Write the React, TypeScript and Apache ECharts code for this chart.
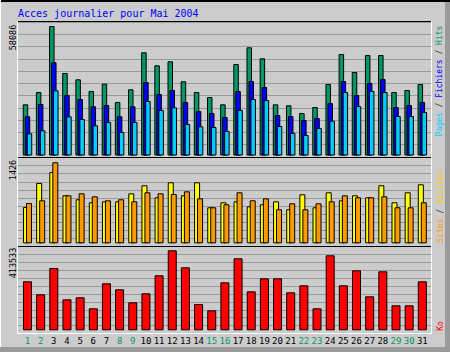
import React, { useEffect, useRef } from 'react';
import * as echarts from 'echarts';

const days = ['1','2','3','4','5','6','7','8','9','10','11','12','13','14','15','16','17','18','19','20','21','22','23','24','25','26','27','28','29','30','31'];
const weekendDays = [1, 2, 8, 9, 15, 16, 22, 23, 29, 30];

const hits = [22965, 28482, 58086, 37005, 34179, 28931, 32205, 23997, 29694, 46289, 40458, 42252, 33282, 28482, 26240, 22965, 41041, 48532, 43598, 22965, 22517, 19063, 21754, 32071, 45527, 37453, 45078, 45078, 28482, 29379, 32071];
const files = [17583, 23100, 41804, 27137, 25342, 22068, 22651, 17583, 22068, 32968, 27585, 29379, 23997, 19960, 19063, 17269, 28931, 33416, 30725, 18166, 17717, 15923, 16820, 23548, 33416, 27137, 32519, 34313, 21754, 22651, 23997];
const pages = [9958, 11303, 29245, 17583, 16372, 13546, 15026, 10541, 15026, 24445, 20409, 21620, 14129, 13097, 12783, 10989, 20409, 25342, 24894, 13232, 10092, 9195, 12335, 15609, 28482, 22203, 28931, 28482, 17717, 17717, 19511];

const visites = [639, 1062, 1255, 845, 775, 722, 739, 739, 880, 1021, 810, 1074, 845, 1074, 634, 722, 739, 651, 687, 739, 599, 863, 634, 898, 757, 845, 810, 1021, 722, 898, 1039];
const sites = [709, 757, 1426, 845, 880, 827, 757, 775, 739, 898, 880, 868, 915, 792, 634, 687, 898, 757, 792, 599, 704, 599, 704, 739, 845, 810, 810, 827, 634, 634, 722];

const ko = [253291, 186091, 322041, 160245, 170584, 113722, 242952, 211937, 144738, 191260, 284306, 413533, 325660, 135950, 103384, 248122, 372182, 201599, 268798, 268798, 196430, 232614, 113722, 387691, 232614, 310152, 175753, 304983, 129230, 129230, 253291];

const FONT = '"DejaVu Sans Mono", monospace';

export default function App() {
  const ref = useRef<HTMLDivElement>(null);
  useEffect(() => {
    if (!ref.current) return;
    const chart = echarts.init(ref.current, null, { renderer: 'svg' });

    const maxH = Math.max(...hits);
    const maxV = Math.max(...visites, ...sites);
    const maxK = Math.max(...ko);

    // panel pixel geometry: [gridTop, gridBottom, barBase, maxTop]
    const p1 = [22, 157, 155.5, 26];
    const p2 = [157.5, 246.5, 243.3, 162.3];
    const p3 = [246.5, 333.5, 330.3, 250.3];
    const range = (p: number[], m: number) => {
      const s = m / (p[2] - p[3]);
      return { min: -(p[1] - p[2]) * s, max: m + (p[3] - p[0]) * s };
    };
    const r1 = range(p1, maxH);
    const r2 = range(p2, maxV);
    const r3 = range(p3, maxK);

    const dataLeft = 20.9;
    const dataWidth = 408;
    const frameLeft = 18;
    const frameWidth = 413;

    const grids = [p1, p2, p3].map((p) => ({ left: dataLeft, width: dataWidth, top: p[0], height: p[1] - p[0] }));
    const bgGrids = [p1, p2, p3].map((p) => ({ left: frameLeft, width: frameWidth, top: p[0], height: p[1] - p[0] }));

    const dataX = [0, 1, 2].map((i) => ({
      type: 'category',
      gridIndex: i,
      data: days,
      axisLine: { show: false },
      axisTick: { show: false },
      axisLabel: i === 2 ? {
        show: true,
        interval: 0,
        margin: 3,
        fontFamily: FONT,
        fontSize: 9,
        color: (v: string) => (weekendDays.indexOf(Number(v)) >= 0 ? '#009966' : '#000000'),
      } : { show: false },
      splitLine: { show: false },
    }));
    const bgX = [3, 4, 5].map((i) => ({ type: 'value', gridIndex: i, min: 0, max: 1, show: false }));
    const dataY = [r1, r2, r3].map((r, i) => ({
      type: 'value', gridIndex: i, min: r.min, max: r.max, show: false, splitLine: { show: false },
    }));
    const bgY = [3, 4, 5].map((i) => ({
      type: 'value', gridIndex: i, min: 0, max: 11, interval: 1,
      axisLine: { show: false }, axisTick: { show: false }, axisLabel: { show: false },
      splitLine: { show: true, lineStyle: { color: '#999999', width: 1 } },
    }));

    const border = { borderColor: '#000000', borderWidth: 1 };
    const rect = (x: number, y: number, w: number, h: number, fill: string) => ({
      type: 'rect', shape: { x, y, width: w, height: h }, style: { fill }, z: 100, silent: true,
    });
    const vtext = (x: number, y: number, text: string, fill: string, size: number, rich?: any) => ({
      type: 'text', x, y, rotation: Math.PI / 2, z: 100, silent: true,
      style: { text, fill, font: `${size}px ${FONT}`, align: 'center', verticalAlign: 'middle', rich },
    });

    chart.setOption({
      animation: false,
      backgroundColor: '#cccccc',
      grid: [...grids, ...bgGrids],
      xAxis: [...dataX, ...bgX],
      yAxis: [...dataY, ...bgY],
      series: [
        { name: 'Hits', type: 'bar', xAxisIndex: 0, yAxisIndex: 0, data: hits, barWidth: 5.5, barGap: '-63.6%', itemStyle: { color: '#009966', ...border } },
        { name: 'Fichiers', type: 'bar', xAxisIndex: 0, yAxisIndex: 0, data: files, barWidth: 5.5, barGap: '-63.6%', itemStyle: { color: '#0000ff', ...border } },
        { name: 'Pages', type: 'bar', xAxisIndex: 0, yAxisIndex: 0, data: pages, barWidth: 5.5, barGap: '-63.6%', itemStyle: { color: '#00ccff', ...border } },
        { name: 'Visites', type: 'bar', xAxisIndex: 1, yAxisIndex: 1, data: visites, barWidth: 6, barGap: '-50%', itemStyle: { color: '#ffff00', ...border } },
        { name: 'Sites', type: 'bar', xAxisIndex: 1, yAxisIndex: 1, data: sites, barWidth: 6, barGap: '-50%', itemStyle: { color: '#ff9900', ...border } },
        { name: 'Ko', type: 'bar', xAxisIndex: 2, yAxisIndex: 2, data: ko, barWidth: 9, itemStyle: { color: '#ff0000', ...border } },
      ],
      graphic: [
        rect(0, 0, 450, 2, '#000000'),
        rect(0, 0, 1, 352, '#ffffff'),
        rect(445, 2, 5, 350, '#9a9a9a'),
        rect(0, 347, 450, 5, '#9a9a9a'),
        rect(17, 21, 415, 1, '#000000'),
        rect(17, 21, 1, 313, '#ffffff'),
        rect(17, 333, 415, 1, '#ffffff'),
        rect(431, 21, 1, 313, '#ffffff'),
        rect(18, 157, 413, 1, '#000000'),
        rect(18, 246, 413, 1, '#000000'),
        {
          type: 'text', left: 18, top: 8, z: 100, silent: true,
          style: { text: 'Acces journalier pour Mai 2004', fill: '#0000ff', font: `10px ${FONT}` },
        },
        vtext(13.3, 37.5, String(maxH), '#000000', 8.5),
        vtext(13.3, 170, String(maxV), '#000000', 8.5),
        vtext(13.3, 263, String(maxK), '#000000', 8.5),
        vtext(439.5, 81, '{p|Pages}{s| / }{f|Fichiers}{s| / }{h|Hits}', '#000000', 8, {
          p: { fill: '#00ccff', font: `8px ${FONT}` },
          s: { fill: '#333333', font: `8px ${FONT}` },
          f: { fill: '#0000ff', font: `8px ${FONT}` },
          h: { fill: '#009966', font: `8px ${FONT}` },
        }),
        vtext(440, 206.5, '{a|Sites}{s| / }{b|Visites}', '#000000', 8, {
          a: { fill: '#ff9900', font: `8px ${FONT}` },
          s: { fill: '#333333', font: `8px ${FONT}` },
          b: { fill: '#ffcc00', font: `8px ${FONT}` },
        }),
        vtext(440, 326, 'Ko', '#ff0000', 8),
      ],
    });
    return () => chart.dispose();
  }, []);
  return <div ref={ref} style={{ position: 'absolute', left: 0, top: 0, width: 450, height: 352 }} />;
}
